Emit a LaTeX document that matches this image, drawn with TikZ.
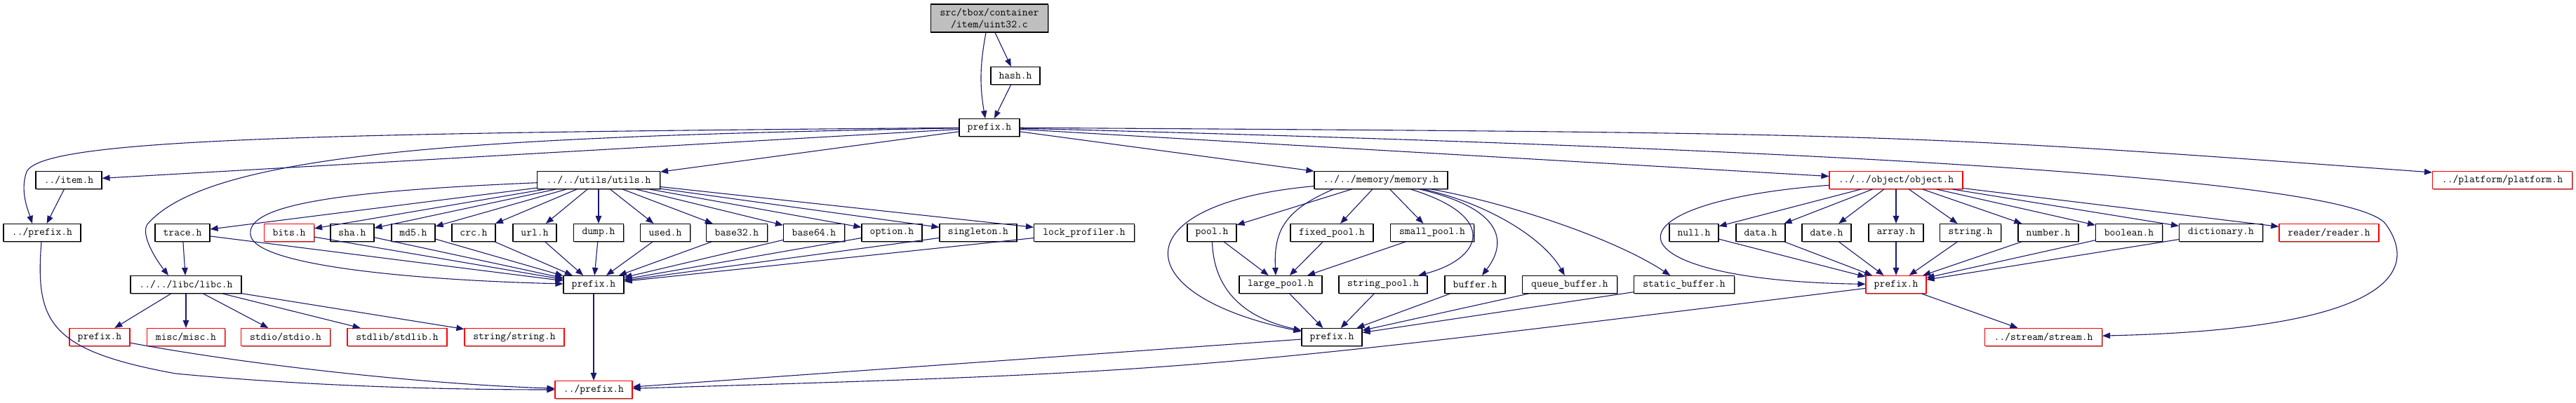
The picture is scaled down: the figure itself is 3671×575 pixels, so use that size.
\documentclass[tikz,border=0pt]{standalone}
\usepackage{fontspec}
\usetikzlibrary{arrows.meta,shadows}
\definecolor{navy}{HTML}{191970}
\tikzset{
  box/.style={draw=black, fill=white, line width=1.1pt, minimum height=25pt, inner sep=0pt,
    font=\fontsize{15.2}{17}\selectfont\ttfamily,
    drop shadow={shadow xshift=1.4pt, shadow yshift=-1.4pt, fill=black!40, opacity=1}},
  rbox/.style={box, draw=red},
  edge/.style={draw=navy, line width=1.1pt, -{Triangle[length=11pt,width=8.5pt]}},
}
\begin{document}
\begin{tikzpicture}[x=1pt, y=-1pt]
\useasboundingbox (0,0) rectangle (3671,575);
\fill[white] (0,0) rectangle (3671,575);
% top
\node[box, fill=black!25, minimum width=167pt, minimum height=40pt, align=center] (top) at (1410,26) {src/tbox/container\\/item/uint32.c};
\node[box, minimum width=70pt] (hash) at (1447,108) {hash.h};
\node[box, minimum width=86pt] (P0) at (1410,182) {prefix.h};
% row 1
\node[box, minimum width=94pt] (item) at (98,257) {../item.h};
\node[box, minimum width=175pt] (U) at (853,257) {../../utils/utils.h};
\node[box, minimum width=190pt] (M) at (1968,257) {../../memory/memory.h};
\node[rbox, minimum width=190pt] (O) at (2702,257) {../../object/object.h};
\node[rbox, minimum width=199pt] (plat) at (3566,257) {../platform/platform.h};
% row 2
\node[box, minimum width=110pt] (pL) at (60,332) {../prefix.h};
\node[box, minimum width=78pt] (trace) at (260,332) {trace.h};
\node[rbox, minimum width=71pt] (bits) at (412,332) {bits.h};
\node[box, minimum width=62pt] (sha) at (502,332) {sha.h};
\node[box, minimum width=62pt] (md5) at (589,332) {md5.h};
\node[box, minimum width=62pt] (crc) at (675,332) {crc.h};
\node[box, minimum width=62pt] (url) at (762,332) {url.h};
\node[box, minimum width=71pt] (dump) at (853,332) {dump.h};
\node[box, minimum width=71pt] (used) at (948,332) {used.h};
\node[box, minimum width=87pt] (b32) at (1050,332) {base32.h};
\node[box, minimum width=87pt] (b64) at (1160,332) {base64.h};
\node[box, minimum width=86pt] (option) at (1271,332) {option.h};
\node[box, minimum width=110pt] (single) at (1394,332) {singleton.h};
\node[box, minimum width=143pt] (lockp) at (1545,332) {lock\_profiler.h};
\node[box, minimum width=70pt] (pool) at (1727,332) {pool.h};
\node[box, minimum width=118pt] (fixed) at (1898,332) {fixed\_pool.h};
\node[box, minimum width=119pt] (small) at (2041,332) {small\_pool.h};
\node[box, minimum width=70pt] (null) at (2414,332) {null.h};
\node[box, minimum width=70pt] (data) at (2509,332) {data.h};
\node[box, minimum width=70pt] (date) at (2603,332) {date.h};
\node[box, minimum width=78pt] (array) at (2702,332) {array.h};
\node[box, minimum width=87pt] (string) at (2808,332) {string.h};
\node[box, minimum width=86pt] (number) at (2919,332) {number.h};
\node[box, minimum width=95pt] (boolean) at (3034,332) {boolean.h};
\node[box, minimum width=119pt] (dict) at (3165,332) {dictionary.h};
\node[rbox, minimum width=142pt] (reader) at (3319,332) {reader/reader.h};
% row 3
\node[box, minimum width=158pt] (libc) at (265,406) {../../libc/libc.h};
\node[box, minimum width=86pt] (pU) at (846,406) {prefix.h};
\node[box, minimum width=118pt] (large) at (1825,406) {large\_pool.h};
\node[box, minimum width=126pt] (strpool) at (1971,406) {string\_pool.h};
\node[box, minimum width=86pt] (buffer) at (2102,406) {buffer.h};
\node[box, minimum width=135pt] (queue) at (2237,406) {queue\_buffer.h};
\node[box, minimum width=143pt] (static) at (2400,406) {static\_buffer.h};
\node[rbox, minimum width=86pt] (pO) at (2702,406) {prefix.h};
% row 4
\node[rbox, minimum width=86pt] (pLibc) at (142,481) {prefix.h};
\node[rbox, minimum width=111pt] (misc) at (265,481) {misc/misc.h};
\node[rbox, minimum width=127pt] (stdio) at (407,481) {stdio/stdio.h};
\node[rbox, minimum width=142pt] (stdlib) at (566,481) {stdlib/stdlib.h};
\node[rbox, minimum width=142pt] (stringh) at (733,481) {string/string.h};
\node[box, minimum width=86pt] (pM) at (1898,481) {prefix.h};
\node[rbox, minimum width=167pt] (stream) at (2912,481) {../stream/stream.h};
% row 5
\node[rbox, minimum width=110pt] (pB) at (846,556) {../prefix.h};

% ---- edges ----
\draw[edge] ([xshift=-5pt]top.south) to[bend right=10] ([xshift=-6pt]P0.north);
\draw[edge] ([xshift=8pt]top.south) -- (hash);
\draw[edge] (hash) -- ([xshift=7pt]P0.north);

\draw[edge] (P0) .. controls (400,190) and (60,200) .. (38,245) .. controls (28,272) and (40,300) .. ([xshift=-14pt]pL.north);
\draw[edge] (P0) -- (item);
\draw[edge] (P0) .. controls (700,195) and (300,215) .. (210,320) .. controls (200,335) and (222,370) .. ([xshift=-25pt]libc.north);
\draw[edge] (P0) -- (U);
\draw[edge] (P0) -- (M);
\draw[edge] (P0) -- (O);
\draw[edge] (P0) .. controls (2700,190) .. ([yshift=11pt]plat.west);
\draw[edge] (P0) .. controls (2500,210) and (3350,250) .. (3400,320) .. controls (3450,390) and (3400,470) .. (stream);

\draw[edge] (item) -- (pL);
\draw[edge] (pL) .. controls (50,460) and (70,500) .. (250,533) .. controls (450,552) and (650,556) .. (pB);

% utils
\foreach \n in {trace,bits,sha,md5,crc,url,dump,used,b32,b64,option,single,lockp}{
  \draw[edge] (U) -- (\n);
  \draw[edge] (\n) -- (pU);
}
\draw[edge] (U) .. controls (500,272) and (350,290) .. (357,335) .. controls (362,380) and (600,400) .. (pU);
\draw[edge] (trace) -- (libc);
\foreach \n in {pLibc,misc,stdio,stdlib,stringh}{
  \draw[edge] (libc) -- (\n);
}
\draw[edge] (pLibc) .. controls (350,520) and (600,548) .. (pB);
\draw[edge] (pU) -- (pB);

% memory
\draw[edge] (M) -- (pool);
\draw[edge] (M) -- (fixed);
\draw[edge] (M) -- (small);
\draw[edge] ([xshift=-68pt]M.south) .. controls (1830,300) and (1815,330) .. ([xshift=-7pt]large.north);
\draw[edge] (M) .. controls (1600,290) and (1600,420) .. ([yshift=8pt]pM.west);
\draw[edge] (M) .. controls (2140,310) and (2110,370) .. (strpool);
\draw[edge] (M) .. controls (2150,300) and (2145,350) .. (buffer);
\draw[edge] (M) .. controls (2120,290) and (2200,340) .. (queue);
\draw[edge] (M) .. controls (2150,290) and (2300,340) .. (static);
\draw[edge] (pool) -- (large);
\draw[edge] (fixed) -- (large);
\draw[edge] (small) -- (large);
\draw[edge] (pool) .. controls (1730,420) and (1780,455) .. (pM);
\foreach \n in {large,strpool,buffer,queue,static}{
  \draw[edge] (\n) -- (pM);
}
\draw[edge] (pM) -- (pB);

% object
\foreach \n in {null,data,date,array,string,number,boolean,dict}{
  \draw[edge] (O) -- (\n);
  \draw[edge] (\n) -- (pO);
}
\draw[edge] (O) -- (reader);
\draw[edge] (O) .. controls (2270,290) and (2290,400) .. (pO);
\draw[edge] (pO) -- (stream);
\draw[edge] (pO) .. controls (1700,530) .. (pB);
\end{tikzpicture}
\end{document}
